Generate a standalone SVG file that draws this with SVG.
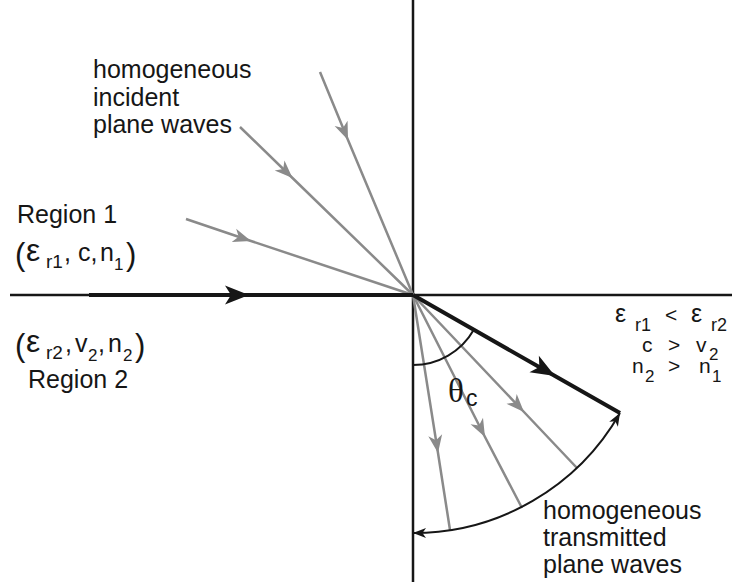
<svg xmlns="http://www.w3.org/2000/svg" width="732" height="582" viewBox="0 0 732 582">
<style>
.t{font-family:"Liberation Sans",Arial,sans-serif;fill:#161616}
.axis{stroke:#161616;stroke-width:2.5;fill:none}
.thick{stroke:#161616;stroke-width:4;fill:none}
.gray{stroke:#8a8a8a;stroke-width:2.5;fill:none}
.arc{stroke:#161616;stroke-width:2;fill:none}
</style>
<defs>
<marker id="ab" viewBox="-26 -11 28 22" refX="0" refY="0" markerWidth="28" markerHeight="22" markerUnits="userSpaceOnUse" orient="auto">
<path d="M0,0 L-24,-9.5 L-18,0 L-24,9.5 Z" fill="#161616"/>
</marker>
<marker id="ag" viewBox="-20 -9 22 18" refX="0" refY="0" markerWidth="22" markerHeight="18" markerUnits="userSpaceOnUse" orient="auto">
<path d="M0,0 L-18,-7 L-13,0 L-18,7 Z" fill="#8a8a8a"/>
</marker>
<marker id="aa" viewBox="-15 -7 17 14" refX="0" refY="0" markerWidth="17" markerHeight="14" markerUnits="userSpaceOnUse" orient="auto-start-reverse">
<path d="M0,0 L-13,-5 L-9.5,0 L-13,5 Z" fill="#161616"/>
</marker>
</defs>
<rect width="732" height="582" fill="#fff"/>
<g id="connectors">
<line class="axis" x1="413" y1="0" x2="413" y2="582"/>
<line class="axis" x1="10" y1="295" x2="732" y2="295"/>
<polyline class="gray" points="320,72 348,140 413,295" marker-mid="url(#ag)"/>
<polyline class="gray" points="240,127 292.5,178 413,295" marker-mid="url(#ag)"/>
<polyline class="gray" points="186,219 251,241 413,295" marker-mid="url(#ag)"/>
<polyline class="gray" points="413,295 438,453 450,530" marker-mid="url(#ag)"/>
<polyline class="gray" points="413,295 485,437 522,508" marker-mid="url(#ag)"/>
<polyline class="gray" points="413,295 524,412 577,468" marker-mid="url(#ag)"/>
<polyline class="thick" points="89,295 249,295 413,295" marker-mid="url(#ab)"/>
<polyline class="thick" points="413,295 555,376 620,413" marker-mid="url(#ab)"/>
<path class="arc" d="M413,533 A238,238 0 0 0 620,413" marker-start="url(#aa)" marker-end="url(#aa)"/>
<path class="arc" d="M413,365 A70,70 0 0 0 473.8,329.7"/>
</g>
<g id="incident-label">
<text class="t" font-size="25" x="93" y="78">homogeneous</text>
<text class="t" font-size="25" x="93" y="106">incident</text>
<text class="t" font-size="25" x="93" y="133">plane waves</text>
</g>
<g id="region1">
<text class="t" font-size="25" x="17" y="223">Region 1</text>
<text class="t" font-size="31" x="15" y="265">(</text>
<text class="t" font-size="32" x="26" y="261">ε</text>
<text class="t" font-size="19" x="46" y="268">r1</text>
<text class="t" font-size="25" x="64" y="261">, c,</text>
<text class="t" font-size="25" x="100" y="261">n</text>
<text class="t" font-size="17" x="114" y="270">1</text>
<text class="t" font-size="31" x="126" y="265">)</text>
</g>
<g id="region2">
<text class="t" font-size="31" x="15" y="356">(</text>
<text class="t" font-size="32" x="26" y="352">ε</text>
<text class="t" font-size="19" x="46" y="359">r2</text>
<text class="t" font-size="25" x="65" y="352">,</text>
<text class="t" font-size="25" x="75" y="352">v</text>
<text class="t" font-size="17" x="88" y="361">2</text>
<text class="t" font-size="25" x="98" y="352">,</text>
<text class="t" font-size="25" x="108" y="352">n</text>
<text class="t" font-size="17" x="123" y="361">2</text>
<text class="t" font-size="31" x="135" y="356">)</text>
<text class="t" font-size="25" x="28" y="388">Region 2</text>
</g>
<g id="relations">
<text class="t" font-size="25" x="615" y="322">ε</text>
<text class="t" font-size="18" x="635" y="331">r1</text>
<text class="t" font-size="21" x="665" y="322">&lt;</text>
<text class="t" font-size="25" x="691" y="322">ε</text>
<text class="t" font-size="18" x="711" y="331">r2</text>
<text class="t" font-size="21" x="642" y="352">c</text>
<text class="t" font-size="21" x="668" y="352">&gt;</text>
<text class="t" font-size="21" x="696" y="352">v</text>
<text class="t" font-size="17" x="709" y="360">2</text>
<text class="t" font-size="21" x="632" y="373">n</text>
<text class="t" font-size="17" x="645" y="382">2</text>
<text class="t" font-size="21" x="668" y="373">&gt;</text>
<text class="t" font-size="21" x="699" y="373">n</text>
<text class="t" font-size="17" x="712" y="382">1</text>
</g>
<g id="theta">
<text font-family="'Liberation Serif',serif" fill="#161616" font-size="33" x="448" y="402">θ</text>
<text class="t" font-size="23" x="466" y="406">c</text>
</g>
<g id="transmitted-label">
<text class="t" font-size="25" x="543" y="519">homogeneous</text>
<text class="t" font-size="25" x="543" y="546">transmitted</text>
<text class="t" font-size="25" x="543" y="573">plane waves</text>
</g>
</svg>
